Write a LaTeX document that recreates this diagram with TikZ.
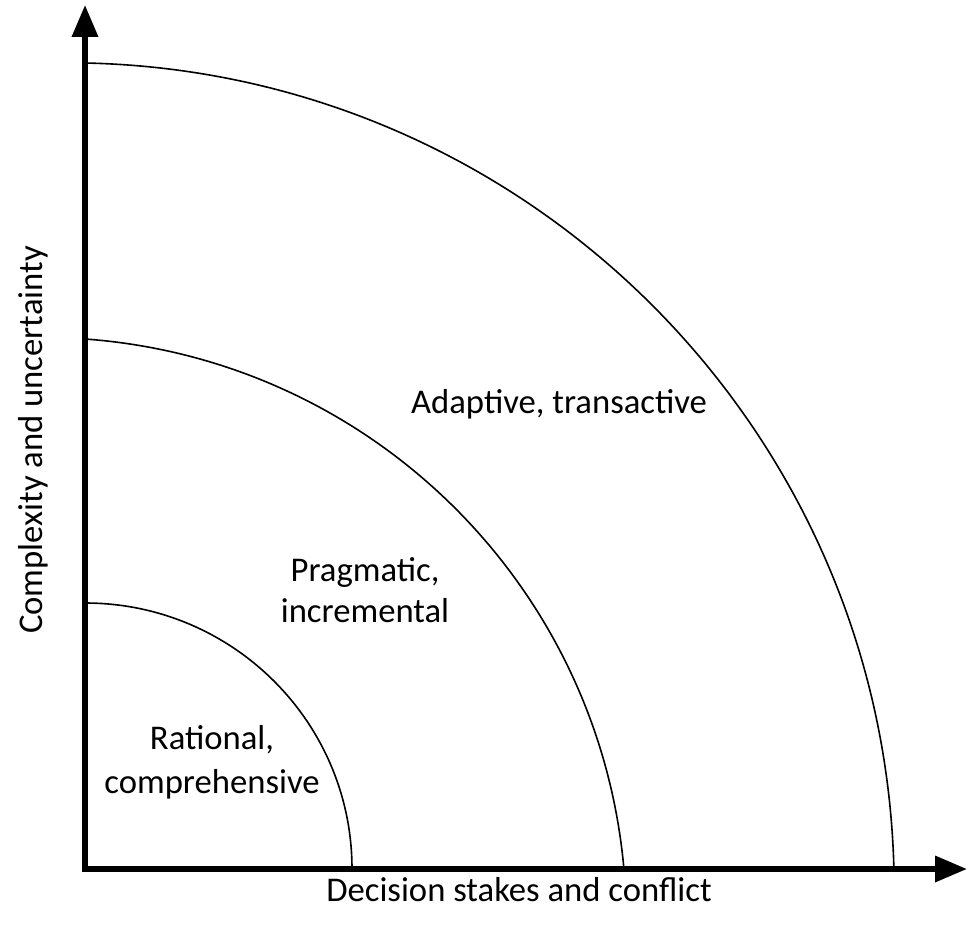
\documentclass[tikz,border=0pt]{standalone}
\usepackage{fontspec}
\setmainfont{Carlito}
\usetikzlibrary{arrows.meta}
\begin{document}
\begin{tikzpicture}[x=0.75pt,y=0.75pt,
  axisline/.style={line width=4.2pt, line join=miter,
    {Triangle[length=24pt,width=19pt]}-{Triangle[length=24pt,width=19pt]}},
  arcline/.style={line width=1.2pt},
  axislabel/.style={font=\fontsize{26}{31}\selectfont, align=center, inner sep=0pt},
  label/.style={font=\fontsize{26}{31}\selectfont, align=center, inner sep=0pt}]
\useasboundingbox (0,0) rectangle (973,926);
\coordinate (o) at (85,57);
\coordinate (ytip) at (85,921);
\coordinate (xtip) at (967,57);
\draw[axisline] (ytip) -- (o) -- (xtip);
% arcs
\draw[arcline] (85,323) arc[start angle=90, end angle=0, x radius=267, y radius=266];
\draw[arcline] (85,587) arc[start angle=85.84, end angle=5.11, radius=583.6];
\draw[arcline] (85,863) arc[start angle=88.78, end angle=1.43, radius=826.8];
% labels
\node[axislabel] (xlab) at (519,36) {Decision stakes and conflict};
\node[axislabel, rotate=90] (ylab) at (33,486) {Complexity and uncertainty};
\node[label] (adaptive) at (559,522) {Adaptive, transactive};
\node[label] (pragmatic) at (365,336) {Pragmatic,\\incremental};
\node[label, font=\fontsize{26}{33}\selectfont] (rational) at (212,164) {Rational,\\comprehensive};
\end{tikzpicture}
\end{document}
